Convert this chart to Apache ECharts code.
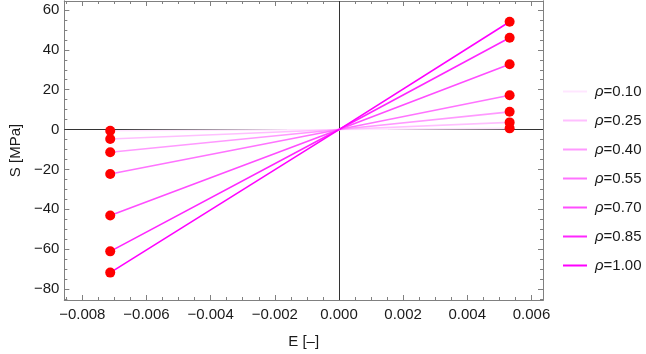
<!DOCTYPE html>
<html><head><meta charset="utf-8">
<script src="https://cdn.jsdelivr.net/npm/echarts@6/dist/echarts.min.js"></script>
<style>html,body{margin:0;padding:0;background:#fff}#c{width:646px;height:354px}</style>
</head><body><div id="c"></div>
<script>
const rhoLabels = ['0.10','0.25','0.40','0.55','0.70','0.85','1.00'];
const strainLeft = -0.00713;
const strainRight = 0.00532;
const stressLeft = [-0.6, -4.75, -11.4, -22.25, -43.1, -61.1, -71.75];
const stressRight = [0.6, 3.6, 8.9, 17.25, 32.75, 46.1, 54.1];
const xMajor = [-0.008,-0.006,-0.004,-0.002,0,0.002,0.004,0.006];
const yMajor = [-80,-60,-40,-20,0,20,40,60];
const lineColors = ['#FFE6FF','#FFBFFF','#FF99FF','#FF73FF','#FF4DFF','#FF26FF','#FF00FF'];

const X_MIN = -0.00856, X_MAX = 0.00636, Y_MIN = -85.5, Y_MAX = 64.5;
const xMinor = [], yMinor = [];
for (let i = -18; i <= 13; i++) { const v = +(i*0.0005).toFixed(4); if (i % 4 !== 0) xMinor.push(v); }
for (let i = -17; i <= 12; i++) { const v = i*5; if (i % 4 !== 0) yMinor.push(v); }

const frameColor = '#808080';
const fmtX = v => (Math.abs(v) < 1e-12 ? '0.000' : (v < 0 ? '\u2212' : '') + Math.abs(v).toFixed(3));
const fmtY = v => (v < 0 ? '\u2212' : '') + Math.abs(v);

function xAx(pos, values, len, labels) {
  return {
    type: 'value', position: pos, min: X_MIN, max: X_MAX,
    name: labels ? 'E [\u2013]' : '', nameLocation: 'middle', nameGap: 34,
    nameTextStyle: { fontFamily: 'Liberation Sans', fontSize: 15, color: '#1a1a1a' },
    axisLine: { show: true, onZero: false, lineStyle: { color: frameColor, width: 1 } },
    axisTick: { show: true, inside: true, length: len, customValues: values, lineStyle: { color: frameColor } },
    axisLabel: { show: !!labels, customValues: values, formatter: fmtX, margin: 7,
      fontFamily: 'Liberation Sans', fontSize: 15, color: '#1a1a1a' },
    splitLine: { show: false }
  };
}
function yAx(pos, values, len, labels) {
  return {
    type: 'value', position: pos, min: Y_MIN, max: Y_MAX,
    name: labels ? 'S [MPa]' : '', nameLocation: 'middle', nameGap: 35,
    nameTextStyle: { fontFamily: 'Liberation Sans', fontSize: 15, color: '#1a1a1a' },
    axisLine: { show: true, onZero: false, lineStyle: { color: frameColor, width: 1 } },
    axisTick: { show: true, inside: true, length: len, customValues: values, lineStyle: { color: frameColor } },
    axisLabel: { show: !!labels, customValues: values, formatter: fmtY, margin: 5,
      fontFamily: 'Liberation Sans', fontSize: 15, color: '#1a1a1a' },
    splitLine: { show: false }
  };
}

const series = rhoLabels.map((r, i) => ({
  name: 'ρ=' + r, type: 'line', xAxisIndex: 0, yAxisIndex: 0,
  data: [[strainLeft, stressLeft[i]], [0, 0], [strainRight, stressRight[i]]],
  symbol: 'none', lineStyle: { color: lineColors[i], width: 1.6 }, itemStyle: { color: lineColors[i] },
  animation: false, z: 3
}));
series[0].markLine = {
  silent: true, symbol: 'none', label: { show: false },
  lineStyle: { color: '#333', width: 1, type: 'solid' },
  data: [{ xAxis: 0 }, { yAxis: 0 }], z: 1
};
const pts = [];
rhoLabels.forEach((r, i) => { pts.push([strainLeft, stressLeft[i]]); pts.push([strainRight, stressRight[i]]); });
series.push({ name: 'pts', type: 'scatter', data: pts, symbol: 'circle', symbolSize: 10,
  itemStyle: { color: '#FF0000', opacity: 1 }, z: 5, animation: false });

const chart = echarts.init(document.getElementById('c'), null, { renderer: 'canvas' });
chart.setOption({
  animation: false,
  backgroundColor: '#fff',
  grid: { left: 55, right: 103, top: 1, bottom: 53, containLabel: false },
  xAxis: [xAx('bottom', xMajor, 5, true), xAx('bottom', xMinor, 3, false),
          xAx('top', xMajor, 5, false), xAx('top', xMinor, 3, false)],
  yAxis: [yAx('left', yMajor, 5, true), yAx('left', yMinor, 3, false),
          yAx('right', yMajor, 5, false), yAx('right', yMinor, 3, false)],
  legend: {
    data: rhoLabels.map(r => ({ name: 'ρ=' + r, icon: 'rect' })), orient: 'vertical', left: 563, top: 84,
    itemWidth: 24, itemHeight: 2, itemGap: 14, padding: 0,
    formatter: n => '{i|ρ}{t|' + n.slice(1) + '}',
    textStyle: { rich: {
      i: { fontFamily: 'Liberation Sans', fontStyle: 'italic', fontSize: 15, color: '#1a1a1a', height: 16, padding: [0, 0, 0, 3] },
      t: { fontFamily: 'Liberation Sans', fontSize: 15, color: '#1a1a1a', height: 16 } } }
  },
  series
});
</script></body></html>
